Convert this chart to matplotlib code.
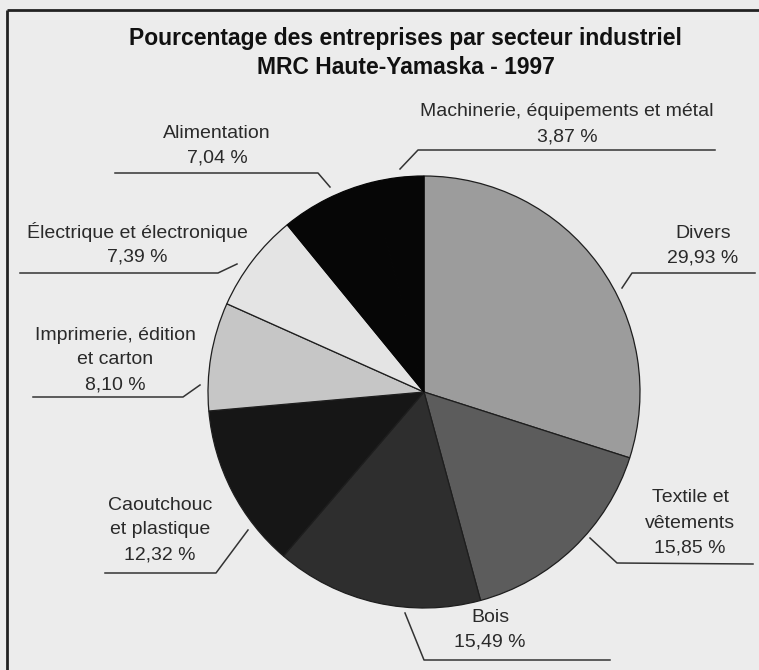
import matplotlib.pyplot as plt

# --- data ---
sectors = ["Divers", "Textile et\nvêtements", "Bois", "Caoutchouc\net plastique",
           "Imprimerie, édition\net carton", "Électrique et électronique",
           "Alimentation", "Machinerie, équipements et métal"]
percents = [29.93, 15.85, 15.49, 12.32, 8.10, 7.39, 7.04, 3.87]
pct_labels = ["29,93 %", "15,85 %", "15,49 %", "12,32 %", "8,10 %", "7,39 %", "7,04 %", "3,87 %"]
shades = ["#9c9c9c", "#5c5c5c", "#2e2e2e", "#161616", "#c6c6c6", "#e4e4e4", "#060606", "#060606"]

# --- layout (pixels, y measured from top) ---
W, H = 759, 670
cx, cy, rad = 424, 392, 216
text_pos = [(703, 233), (690, 498), (490, 617), (160, 505),
            (115, 335), (137, 232), (217, 133), (567, 112)]
leaders = [
    [(622, 288), (632, 273), (755, 273)],
    [(590, 538), (617, 563), (753, 564)],
    [(405, 613), (424, 660), (610, 660)],
    [(248, 530), (216, 573), (105, 573)],
    [(200, 385), (183, 397), (33, 397)],
    [(237, 264), (218, 273), (20, 273)],
    [(330, 187), (318, 173), (115, 173)],
    [(400, 169), (418, 150), (715, 150)],
]
line_h = 25

plt.rcParams['font.family'] = ['Liberation Sans', 'DejaVu Sans']
bg = "#ececec"

fig = plt.figure(figsize=(W / 100, H / 100), dpi=100, facecolor=bg)
ax = fig.add_axes([0, 0, 1, 1])
ax.set_facecolor(bg)

wedges, _ = ax.pie(percents, colors=shades, center=(cx, H - cy), radius=rad,
                   startangle=90, counterclock=False,
                   wedgeprops=dict(edgecolor="#1e1e1e", linewidth=0.9))
# the two black sectors merge visually in the original
for w in wedges[6:]:
    w.set_edgecolor("#060606")
ax.set_xlim(0, W)
ax.set_ylim(0, H)
ax.set_aspect('auto')
ax.axis('off')

# frame (top and left edge of the scanned box)
ax.plot([7, W], [H - 10, H - 10], color="#222222", lw=2, solid_capstyle='butt')
ax.plot([7, 7], [H - 10, 0], color="#222222", lw=2, solid_capstyle='butt')

# title
ax.text(W / 2 + 26, H - 38, "Pourcentage des entreprises par secteur industriel",
        ha='center', va='center', fontsize=16.5, fontweight='bold', color="#111111")
ax.text(W / 2 + 26, H - 68, "MRC Haute-Yamaska - 1997",
        ha='center', va='center', fontsize=16.5, fontweight='bold', color="#111111")

# labels with leader lines
for name, pct, (tx, ty), pts in zip(sectors, pct_labels, text_pos, leaders):
    lines = name.split("\n") + [pct]
    for i, s in enumerate(lines):
        ax.text(tx, H - (ty + i * line_h), s, ha='center', va='center',
                fontsize=14, color="#2a2a2a")
    xs = [p[0] for p in pts]
    ys = [H - p[1] for p in pts]
    ax.plot(xs, ys, color="#333333", lw=1.1)

fig.savefig("out.png", dpi=100, facecolor=bg)
